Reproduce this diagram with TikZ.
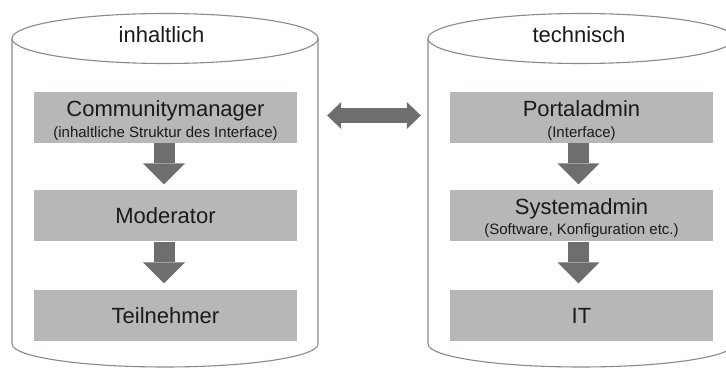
\documentclass[tikz,border=0pt]{standalone}
\usepackage{fontspec}
\setmainfont{Liberation Sans}
\usetikzlibrary{arrows.meta}
\definecolor{boxgray}{HTML}{B6B7B7}
\definecolor{arrowgray}{HTML}{6D6E70}
\definecolor{rimgray}{HTML}{8A8A8A}
\definecolor{textdark}{HTML}{1A1A1A}
\tikzset{
  rolebox/.style={fill=boxgray, draw=none, minimum width=263pt, minimum height=51pt, inner sep=0pt},
  maintext/.style={font=\fontsize{22}{24}\selectfont, text=textdark, inner sep=0pt, anchor=base},
  subtext/.style={font=\fontsize{15}{17}\selectfont, text=textdark, inner sep=0pt, anchor=base},
  headtext/.style={font=\fontsize{22}{24}\selectfont, text=textdark, inner sep=0pt, anchor=base},
  rim/.style={draw=rimgray, line width=1.1pt},
  downarrow/.style={draw=arrowgray, line width=21pt,
    -{Triangle[width=42pt, length=21pt, line width=0pt]}},
  bothways/.style={draw=arrowgray, line width=15pt,
    {Triangle[width=27pt, length=14pt, line width=0pt]}-{Triangle[width=27pt, length=14pt, line width=0pt]}}
}
\begin{document}
\begin{tikzpicture}[x=1pt, y=1pt]
\useasboundingbox (0,0) rectangle (726,369);
\begin{scope}
\clip (0,0) rectangle (726,369);
% left cylinder
\draw[rim, fill=white] (12,330.5) -- (12,25)
  arc[start angle=180, end angle=360, x radius=153, y radius=23] -- (318,330.5);
\draw[rim, fill=white] (165,330.5) ellipse [x radius=153, y radius=25];
% right cylinder
\draw[rim, fill=white] (428,330.5) -- (428,25)
  arc[start angle=180, end angle=360, x radius=153, y radius=23] -- (734,330.5);
\draw[rim, fill=white] (581,330.5) ellipse [x radius=153, y radius=25];
\end{scope}

\node[headtext] (h1) at (161.5,326) {inhaltlich};
\node[headtext] (h2) at (579,326) {technisch};

% content column
\node[rolebox] (cm) at (165.5,251.5) {};
\node[rolebox] (mo) at (165.5,153) {};
\node[rolebox] (tn) at (165.5,53) {};
\node[maintext] (cmt) at (165.5,252) {Communitymanager};
\node[subtext] (cms) at (165.5,231) {(inhaltliche Struktur des Interface)};
\node[maintext] (mot) at (165.5,145) {Moderator};
\node[maintext] (tnt) at (165.5,45) {Teilnehmer};

% technical column
\node[rolebox] (pa) at (581.5,251.5) {};
\node[rolebox] (sa) at (581.5,153) {};
\node[rolebox] (it) at (581.5,53) {};
\node[maintext] (pat) at (581.5,252) {Portaladmin};
\node[subtext] (pas) at (581.5,231) {(Interface)};
\node[maintext] (sat) at (581.5,154) {Systemadmin};
\node[subtext] (sas) at (581.5,134) {(Software, Konfiguration etc.)};
\node[maintext] (itt) at (581.5,45) {IT};

% hierarchy arrows
\draw[downarrow, shorten >=6pt] ([xshift=-1.5pt]cm.south) -- ([xshift=-1.5pt]mo.north);
\draw[downarrow, shorten >=7pt] ([xshift=-1.5pt]mo.south) -- ([xshift=-1.5pt]tn.north);
\draw[downarrow, shorten >=6pt] ([xshift=-3pt]pa.south) -- ([xshift=-3pt]sa.north);
\draw[downarrow, shorten >=7pt] ([xshift=-3pt]sa.south) -- ([xshift=-3pt]it.north);

% link between the two columns
\draw[bothways, shorten <=30pt, shorten >=29pt] ([yshift=2pt]cm.east) -- ([yshift=2pt]pa.west);
\end{tikzpicture}
\end{document}
